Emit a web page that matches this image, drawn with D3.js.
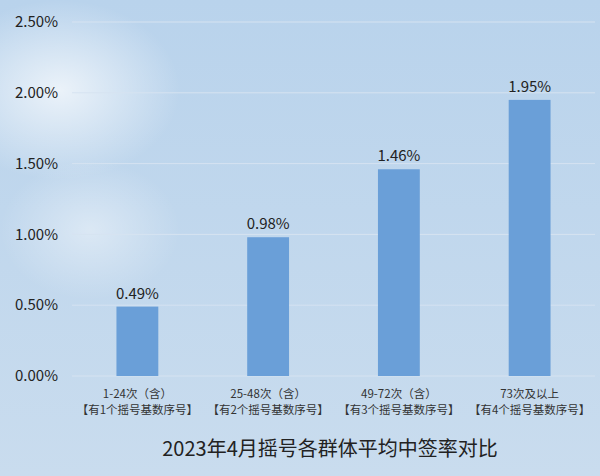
<!DOCTYPE html><html><head><meta charset="utf-8"><script src="https://d3js.org/d3.v7.min.js"></script>
<style>body{margin:0}svg{display:block}</style></head><body><svg width="600" height="476"></svg><script>
const categories=["1-24次（含）|【有1个摇号基数序号】","25-48次（含）|【有2个摇号基数序号】","49-72次（含）|【有3个摇号基数序号】","73次及以上|【有4个摇号基数序号】"];
const values=[0.49,0.98,1.46,1.95];
const yTicks=[0,0.5,1,1.5,2,2.5];
const title="2023年4月摇号各群体平均中签率对比";
const svg=d3.select("svg");
const defs=svg.append("defs");
const g1=defs.append("linearGradient").attr("id","bg").attr("x1",0).attr("y1",0).attr("x2",0).attr("y2",1);
g1.append("stop").attr("offset",0).attr("stop-color","#b9d3ec");
g1.append("stop").attr("offset",1).attr("stop-color","#c9dcee");
const rg=defs.append("radialGradient").attr("id","cloud");
rg.append("stop").attr("offset",0).attr("stop-color","#fff").attr("stop-opacity",0.7);
rg.append("stop").attr("offset",1).attr("stop-color","#fff").attr("stop-opacity",0);
svg.append("rect").attr("width",600).attr("height",476).attr("fill","url(#bg)");
svg.append("ellipse").attr("cx",60).attr("cy",90).attr("rx",120).attr("ry",90).attr("fill","url(#cloud)");
svg.append("ellipse").attr("cx",90).attr("cy",230).attr("rx",90).attr("ry",70).attr("fill","url(#cloud)").attr("opacity",0.6);
const f="'Noto Sans CJK SC','Noto Sans',sans-serif";
const x=d3.scaleBand().domain(categories).range([72,595]).paddingInner(0.68).paddingOuter(0.34);
const y=d3.scaleLinear().domain([0,2.5]).range([376,22]);
svg.append("g").selectAll("line").data(yTicks).join("line").attr("x1",72).attr("x2",595).attr("y1",d=>y(d)).attr("y2",d=>y(d)).attr("stroke","#d6e3f1").attr("stroke-width",1);
svg.append("g").selectAll("text").data(yTicks).join("text").attr("x",58).attr("y",d=>y(d)).attr("dy","0.35em").attr("text-anchor","end").attr("font-family",f).attr("font-size",15).attr("fill","#222").text(d=>d.toFixed(2)+"%");
svg.append("g").selectAll("rect").data(values).join("rect").attr("x",(d,i)=>x(categories[i])).attr("width",x.bandwidth()).attr("y",d=>y(d)).attr("height",d=>y(0)-y(d)).attr("fill","#6a9fd8");
svg.append("g").selectAll("text").data(values).join("text").attr("x",(d,i)=>x(categories[i])+x.bandwidth()/2).attr("y",d=>y(d)-8).attr("text-anchor","middle").attr("font-family",f).attr("font-size",15).attr("fill","#222").text(d=>d.toFixed(2)+"%");
const xl=svg.append("g").selectAll("text").data(categories).join("text").attr("x",d=>x(d)+x.bandwidth()/2).attr("text-anchor","middle").attr("font-family",f).attr("font-size",11.5).attr("fill","#333");
xl.each(function(d){const t=d3.select(this);d.split("|").forEach((s,i)=>t.append("tspan").attr("x",x(d)+x.bandwidth()/2).attr("y",398+i*16).text(s));});
svg.append("text").attr("x",330).attr("y",456).attr("text-anchor","middle").attr("font-family",f).attr("font-size",20).attr("fill","#222").text(title);
</script></body></html>
